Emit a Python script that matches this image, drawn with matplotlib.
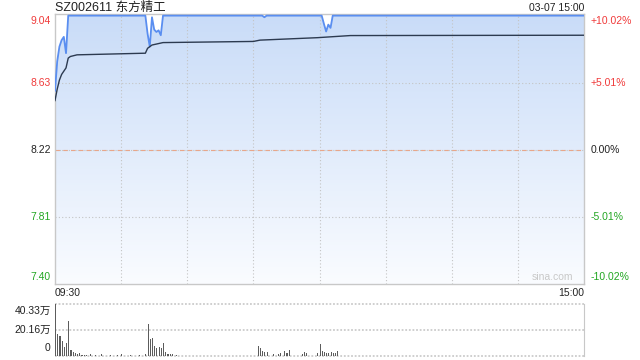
import numpy as np
import matplotlib
matplotlib.use("Agg")
import matplotlib.pyplot as plt
from matplotlib.colors import LinearSegmentedColormap
from matplotlib.patches import Polygon

plt.rcParams['font.family'] = ['Liberation Sans', 'Noto Sans CJK SC', 'DejaVu Sans']

# ---- data ----
title = "SZ002611 东方精工"
stamp = "03-07 15:00"
prev_close = 8.22
price_ticks = [7.40, 7.81, 8.22, 8.63, 9.04]
price_labels = ["7.40", "7.81", "8.22", "8.63", "9.04"]
pct_labels = ["-10.02%", "-5.01%", "0.00%", "+5.01%", "+10.02%"]
vol_ticks = [0, 20.16, 40.33]
vol_labels = ["0", "20.16万", "40.33万"]
time_labels = ["09:30", "15:00"]
n_minutes = 241

# price (minute index, price)
price_min = [0, 1, 2, 3, 4, 5, 6, 41, 42, 43, 44, 45, 46, 47, 48, 49,
             94, 95, 96, 120, 121, 122, 123, 124, 125, 126, 241]
price_val = [8.58, 8.76, 8.85, 8.89, 8.91, 8.81, 9.04, 9.04, 8.93, 8.85, 9.03, 8.955,
             8.94, 8.95, 8.92, 9.04, 9.04, 9.03, 9.04, 9.04, 9.04, 8.99, 8.943, 8.985,
             8.965, 9.04, 9.04]

# average price line
avg_min = [0, 1, 2, 3, 4, 5, 6, 7, 10, 41, 42, 44, 49, 90, 93, 119, 134, 241]
avg_val = [8.52, 8.59, 8.645, 8.68, 8.70, 8.72, 8.78, 8.79, 8.80, 8.81, 8.84, 8.86,
           8.875, 8.882, 8.89, 8.905, 8.918, 8.92]

# volume in 万
vol_min = [0, 1, 2, 3, 4, 5, 6, 7, 8, 9, 10, 11, 12, 13, 14, 16, 18, 21, 25, 28, 30,
           34, 38, 41, 42, 43, 44, 45, 46, 47, 48, 49, 50, 51, 52, 53, 55,
           92, 93, 94, 95, 96, 99, 101, 102, 104, 105, 106, 112, 113, 114,
           119, 120, 121, 122, 123, 124, 125, 126, 127, 128]
vol_val = [40.33, 17.0, 15.5, 11.8, 6.6, 10.2, 27.2, 4.5, 3.0, 2.0, 1.2, 2.4, 0.8, 0.6,
           0.9, 1.0, 0.7, 1.1, 0.9, 0.8, 1.4, 0.8, 0.9, 1.0, 24.9, 13.4, 13.9, 7.6,
           6.3, 6.6, 6.0, 10.2, 3.0, 1.5, 1.3, 1.0, 0.9,
           7.8, 6.3, 3.7, 3.1, 3.1, 1.1, 1.6, 1.9, 3.9, 2.1, 4.5, 1.3, 3.1, 2.1,
           2.4, 9.2, 3.9, 2.7, 1.9, 2.4, 3.1, 1.9, 2.1, 3.7]

RED = '#f03a3a'
GREEN = '#22a622'
GRID = '#c4c4c4'
FRAME = '#c8c8c8'

W, H = 640, 360
fig = plt.figure(figsize=(6.4, 3.6), dpi=100)
fig.patch.set_facecolor('white')

def fx(px):
    return px / W

def fy(py):
    return 1 - py / H

ax = fig.add_axes([fx(55), fy(284), fx(584) - fx(55), (284 - 14) / H])
axv = fig.add_axes([fx(55), fy(355.7), fx(584) - fx(55), 51.4 / H])

# ---- main price panel ----
ymin, ymax = price_ticks[0], price_ticks[-1]
lo, hi = ymin - 0.003, ymax + 0.01
ax.set_xlim(0, n_minutes - 1)
ax.set_ylim(lo, hi)

cmap = LinearSegmentedColormap.from_list('fill', ['#fafcff', '#c9dcf8'])
grad = np.linspace(0, 1, 256).reshape(-1, 1)
img = ax.imshow(grad, extent=[0, n_minutes - 1, lo, ymax], origin='lower',
                aspect='auto', cmap=cmap, zorder=1)
poly = Polygon(list(zip(price_min, price_val)) + [(price_min[-1], lo), (price_min[0], lo)],
               closed=True, facecolor='none', edgecolor='none')
ax.add_patch(poly)
img.set_clip_path(poly)

for t in range(30, n_minutes - 1, 30):
    ax.axvline(t, color=GRID, lw=0.8, ls=(0, (1, 2)), zorder=2)
for v in price_ticks[1:-1]:
    if v != prev_close:
        ax.axhline(v, color=GRID, lw=0.8, ls=(0, (1, 2)), zorder=2)
ax.axhline(prev_close, color=GRID, lw=0.8, ls=(0, (1, 1)), zorder=2)
ax.axhline(prev_close, color='#e8a68a', lw=0.8, ls=(0, (4, 3)), zorder=2)

ax.plot(price_min, price_val, color='#5a8ef0', lw=1.3, zorder=4)
ax.plot(avg_min, avg_val, color='#2c3a50', lw=1.0, zorder=5)

ax.set_xticks([])
ax.set_yticks([])
for s in ax.spines.values():
    s.set_color(FRAME)
    s.set_linewidth(1.0)

ytr = ax.get_yaxis_transform()
for i, (v, lab, pl) in enumerate(zip(price_ticks, price_labels, pct_labels)):
    if v > prev_close:
        c = RED
    elif v < prev_close:
        c = GREEN
    else:
        c = '#222222'
    dy = 0
    if i == 0:
        dy = 5
    elif i == len(price_ticks) - 1:
        dy = -4
    ax.annotate(lab, xy=(0, v), xycoords=ytr, xytext=(-3, dy), textcoords='offset points',
                ha='right', va='center', fontsize=7.5, color=c)
    ax.annotate(pl, xy=(1, v), xycoords=ytr, xytext=(4.5, dy), textcoords='offset points',
                ha='left', va='center', fontsize=7.5, color=c)

ax.text(0.979, 0.025, "sina.com", transform=ax.transAxes, ha='right', va='center',
        fontsize=7.5, color='#c8c8c8', zorder=6)

# ---- volume panel ----
axv.set_xlim(0, n_minutes - 1)
axv.set_ylim(0, vol_ticks[-1])
axv.bar(vol_min, vol_val, width=0.5, align='edge', color='#5c5c5c', zorder=3)
for v in vol_ticks:
    axv.axhline(v, color='#cccccc', lw=1.3, ls=(0, (1, 1)), zorder=2, clip_on=False)
axv.set_xticks([])
axv.set_yticks([])
for k in ['left', 'top', 'bottom']:
    axv.spines[k].set_visible(False)
axv.spines['right'].set_color(FRAME)

vtr = axv.get_yaxis_transform()
for i, (v, lab) in enumerate(zip(vol_ticks, vol_labels)):
    dy = 0
    if i == 0:
        dy = 5.5
    elif i == len(vol_ticks) - 1:
        dy = -4.5
    axv.annotate(lab, xy=(0, v), xycoords=vtr, xytext=(-3, dy), textcoords='offset points',
                 ha='right', va='center', fontsize=7.5, color='#222222')

# ---- header / time labels ----
fig.text(fx(55), fy(8), title, ha='left', va='center', fontsize=9, color='#222222')
fig.text(fx(584), fy(8), stamp, ha='right', va='center', fontsize=7.5, color='#222222')
fig.text(fx(55), fy(293), time_labels[0], ha='left', va='center', fontsize=7.5, color='#222222')
fig.text(fx(584), fy(293), time_labels[1], ha='right', va='center', fontsize=7.5, color='#222222')

fig.savefig("out.png", dpi=100)
